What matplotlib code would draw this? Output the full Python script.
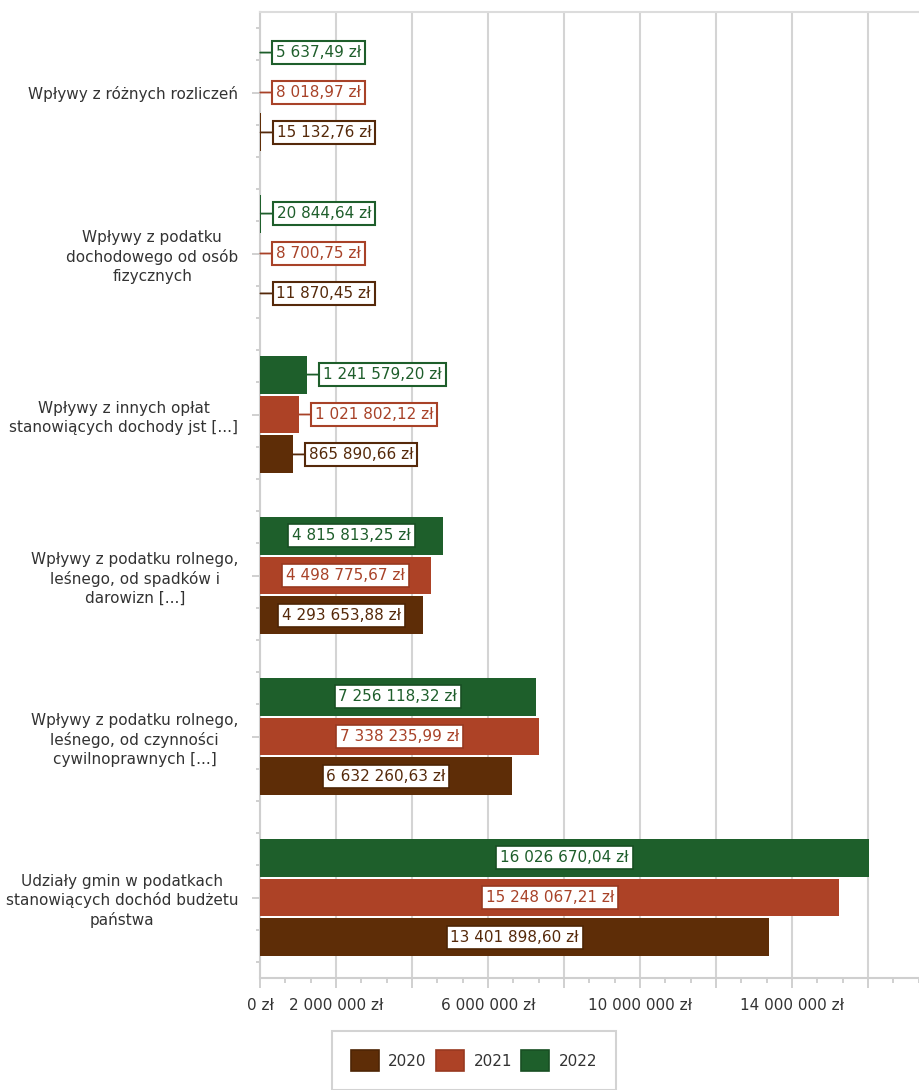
import matplotlib
matplotlib.use("Agg")
import matplotlib.pyplot as plt
from matplotlib.ticker import MultipleLocator, FixedLocator, FixedFormatter
from matplotlib.patches import Patch

plt.rcParams['font.family'] = ['DejaVu Sans']

categories = [
    "Wpływy z różnych rozliczeń",
    "Wpływy z podatku\ndochodowego od osób\nfizycznych",
    "Wpływy z innych opłat\nstanowiących dochody jst [...]",
    "Wpływy z podatku rolnego,\nleśnego, od spadków i\ndarowizn [...]",
    "Wpływy z podatku rolnego,\nleśnego, od czynności\ncywilnoprawnych [...]",
    "Udziały gmin w podatkach\nstanowiących dochód budżetu\npaństwa",
]
years = ["2020", "2021", "2022"]
values_2020 = [15132.76, 11870.45, 865890.66, 4293653.88, 6632260.63, 13401898.60]
values_2021 = [8018.97, 8700.75, 1021802.12, 4498775.67, 7338235.99, 15248067.21]
values_2022 = [5637.49, 20844.64, 1241579.20, 4815813.25, 7256118.32, 16026670.04]
series = [values_2020, values_2021, values_2022]

xtick_values = [0, 2e6, 4e6, 6e6, 8e6, 10e6, 12e6, 14e6, 16e6]
xtick_labels = ["0 zł", "2 000 000 zł", "", "6 000 000 zł", "", "10 000 000 zł", "", "14 000 000 zł", ""]

bar_colors = ["#5e2d07", "#ad4226", "#1e5f2b"]
edge_colors = ["#4e2505", "#983920", "#184f23"]
text_colors = ["#55290a", "#a84228", "#1e5e2b"]
offsets = [0.248, 0.0, -0.248]
bar_h = 0.236

def fmt(v):
    s = f"{v:,.2f}"
    s = s.replace(",", " ").replace(".", ",")
    return s + " zł"

fig = plt.figure(figsize=(9.2, 10.9), dpi=100)
ax = fig.add_axes([260/920, 1 - 978/1090, 1 - 260/920, (978 - 12)/1090])

for si, vals in enumerate(series):
    for ci, v in enumerate(vals):
        y = ci + offsets[si]
        ax.barh(y, v, height=bar_h, color=bar_colors[si], zorder=3)
        label = fmt(v)
        if v > 3e6:
            ax.text(v / 2, y, label, ha='center', va='center', fontsize=11,
                    color=text_colors[si], zorder=5,
                    bbox=dict(boxstyle='square,pad=0.25', fc='white',
                              ec=edge_colors[si], lw=1.2))
        else:
            ax.annotate(label, xy=(v, y), xytext=(11.5, 0), textcoords='offset points',
                        ha='left', va='center', fontsize=11, color=text_colors[si], zorder=5,
                        bbox=dict(boxstyle='square,pad=0.25', fc='white',
                                  ec=text_colors[si], lw=1.5),
                        arrowprops=dict(arrowstyle='-', color=text_colors[si], lw=1.3,
                                        shrinkA=0, shrinkB=0))

ax.set_ylim(len(categories) - 0.5, -0.5)
ax.set_xlim(0, 2e6 * 660 / 76)

ax.set_yticks(range(len(categories)))
ax.set_yticklabels(categories, fontsize=11, color='#333333', linespacing=1.3,
                   multialignment='center')
ax.yaxis.set_minor_locator(MultipleLocator(0.2))

ax.xaxis.set_major_locator(FixedLocator(xtick_values))
ax.xaxis.set_major_formatter(FixedFormatter(xtick_labels))
ax.xaxis.set_minor_locator(MultipleLocator(2e6 / 3))

ax.tick_params(axis='x', which='major', length=7.5, width=1.2, color='#c8c8c8',
               labelsize=11, labelcolor='#333333', pad=7)
ax.tick_params(axis='x', which='minor', length=3.5, width=1.2, color='#c8c8c8')
ax.tick_params(axis='y', which='major', length=5.5, width=1.2, color='#c8c8c8', pad=10)
ax.tick_params(axis='y', which='minor', length=3, width=1.2, color='#c8c8c8')

ax.grid(axis='x', which='major', color='#d4d4d4', lw=1.5, zorder=0)
ax.set_axisbelow(True)

ax.spines['right'].set_visible(False)
ax.spines['top'].set_color('#dcdcdc')
ax.spines['top'].set_linewidth(1.5)
ax.spines['left'].set_color('#cfcfcf')
ax.spines['left'].set_linewidth(1.5)
ax.spines['bottom'].set_color('#cfcfcf')
ax.spines['bottom'].set_linewidth(1.5)

handles = [Patch(facecolor=bar_colors[i], edgecolor=edge_colors[i], lw=1.2, label=years[i])
           for i in range(3)]
leg = fig.legend(handles=handles, loc='upper center', bbox_to_anchor=(474/920, 1 - 1031/1090),
                 ncol=3, fontsize=11, frameon=True, fancybox=False, edgecolor='#c8c8c8',
                 handlelength=1.85, handleheight=1.75, handletextpad=0.6, columnspacing=0.6,
                 borderpad=1.25, borderaxespad=0, labelcolor='#333333')
leg.get_frame().set_linewidth(1.5)

fig.savefig("out.png", dpi=100)
